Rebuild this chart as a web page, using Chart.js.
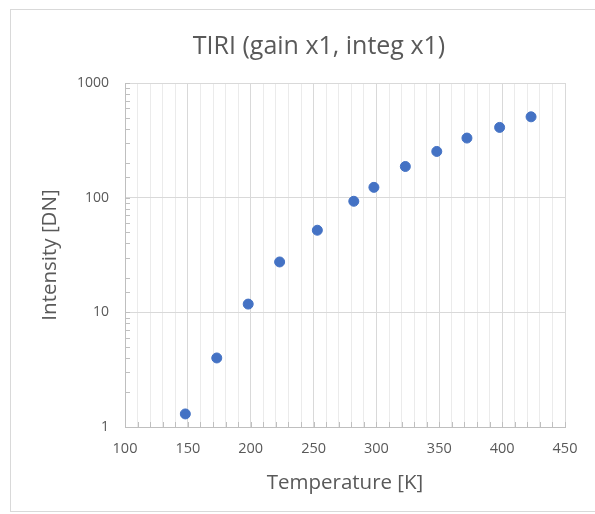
<!DOCTYPE html>
<html>
<head>
<meta charset="utf-8">
<title>TIRI (gain x1, integ x1)</title>
<script src="https://cdn.jsdelivr.net/npm/chart.js@4"></script>
<style>
  html, body { margin: 0; padding: 0; background: #fff; }
  #frame {
    position: absolute; left: 10px; top: 9px;
    width: 600px; height: 501px;
    border: 1px solid #d9d9d9;
  }
  #wrap { position: absolute; left: 0; top: 0; width: 595px; height: 514px; }
</style>
</head>
<body>
<div id="frame"></div>
<div id="wrap"><canvas id="chart"></canvas></div>
<script>
  // ── Data ─────────────────────────────────────────────────────────
  const temperatures = [148, 173, 198, 223, 253, 282, 298, 323, 348, 372, 398, 423];
  const intensities  = [1.3, 4.0, 11.8, 27.5, 52, 93, 123, 187, 253, 331, 410, 507];
  const xTickLabels  = [100, 150, 200, 250, 300, 350, 400, 450];
  const yTickLabels  = [1, 10, 100, 1000];
  const chartTitle   = 'TIRI (gain x1, integ x1)';

  // ── Theme tokens ─────────────────────────────────────────────────
  const TEXT = '#595959';
  const GRID_MAJOR = '#d9d9d9';
  const GRID_MINOR = '#ebebeb';
  const AXIS_LINE = '#bfbfbf';
  const POINT = '#4472C4';
  const FONT = "'Open Sans', sans-serif";

  // Title sits left of the plot centre in the original, so draw it ourselves
  const offsetTitle = {
    id: 'offsetTitle',
    afterDraw(chart) {
      const { ctx } = chart;
      ctx.save();
      ctx.fillStyle = TEXT;
      ctx.font = `25px ${FONT}`;
      ctx.textAlign = 'center';
      ctx.textBaseline = 'middle';
      ctx.fillText(chartTitle, 319, 47);
      ctx.restore();
    }
  };

  // small inward tick marks along the left and bottom axes (Excel style)
  const innerTicks = {
    id: 'innerTicks',
    afterDatasetsDraw(chart) {
      const { ctx, chartArea, scales: { x, y } } = chart;
      ctx.save();
      ctx.strokeStyle = AXIS_LINE;
      ctx.lineWidth = 1;
      ctx.beginPath();
      x.ticks.forEach(t => {
        const px = Math.round(x.getPixelForValue(t.value)) + 0.5;
        ctx.moveTo(px, chartArea.bottom);
        ctx.lineTo(px, chartArea.bottom - 5);
      });
      y.ticks.forEach(t => {
        const py = Math.round(y.getPixelForValue(t.value)) + 0.5;
        ctx.moveTo(chartArea.left, py);
        ctx.lineTo(chartArea.left + 5, py);
      });
      ctx.stroke();
      ctx.restore();
    }
  };

  new Chart(document.getElementById('chart'), {
    type: 'scatter',
    data: {
      datasets: [{
        label: 'Intensity',
        data: temperatures.map((t, i) => ({ x: t, y: intensities[i] })),
        backgroundColor: POINT,
        borderColor: POINT,
        pointRadius: 5,
        pointHoverRadius: 5
      }]
    },
    options: {
      responsive: true,
      maintainAspectRatio: false,
      animation: false,
      layout: { padding: { left: 0, right: 30, top: 83, bottom: 0 } },
      plugins: {
        legend: { display: false },
        tooltip: { enabled: false },
        title: { display: false }
      },
      scales: {
        x: {
          type: 'linear',
          min: 100,
          max: 450,
          afterFit(scale) { scale.height = 87; },
          ticks: {
            stepSize: 10,
            color: TEXT,
            padding: 13,
            maxRotation: 0,
            autoSkip: false,
            font: { family: FONT, size: 14.5 },
            callback: v => (xTickLabels.includes(v) ? String(v) : '')
          },
          grid: {
            drawTicks: false,
            color: c => (c.tick && xTickLabels.includes(c.tick.value) ? GRID_MAJOR : GRID_MINOR)
          },
          border: { color: AXIS_LINE },
          title: {
            display: true,
            text: 'Temperature [K]',
            color: TEXT,
            font: { family: FONT, size: 20.5 },
            padding: { top: 0, bottom: 19 }
          }
        },
        y: {
          type: 'logarithmic',
          min: 1,
          max: 1000,
          afterFit(scale) { scale.width = 125; },
          ticks: {
            color: TEXT,
            padding: 16,
            autoSkip: false,
            font: { family: FONT, size: 14 },
            callback: v => (yTickLabels.includes(v) ? String(v) : '')
          },
          grid: {
            drawTicks: false,
            color: c => (c.tick && yTickLabels.includes(c.tick.value) ? GRID_MAJOR : 'rgba(0,0,0,0)')
          },
          border: { color: AXIS_LINE },
          title: {
            display: true,
            text: 'Intensity [DN]',
            color: TEXT,
            font: { family: FONT, size: 20.5 },
            padding: { top: 38, bottom: 0 }
          }
        }
      }
    },
    plugins: [innerTicks, offsetTitle]
  });
</script>
</body>
</html>
